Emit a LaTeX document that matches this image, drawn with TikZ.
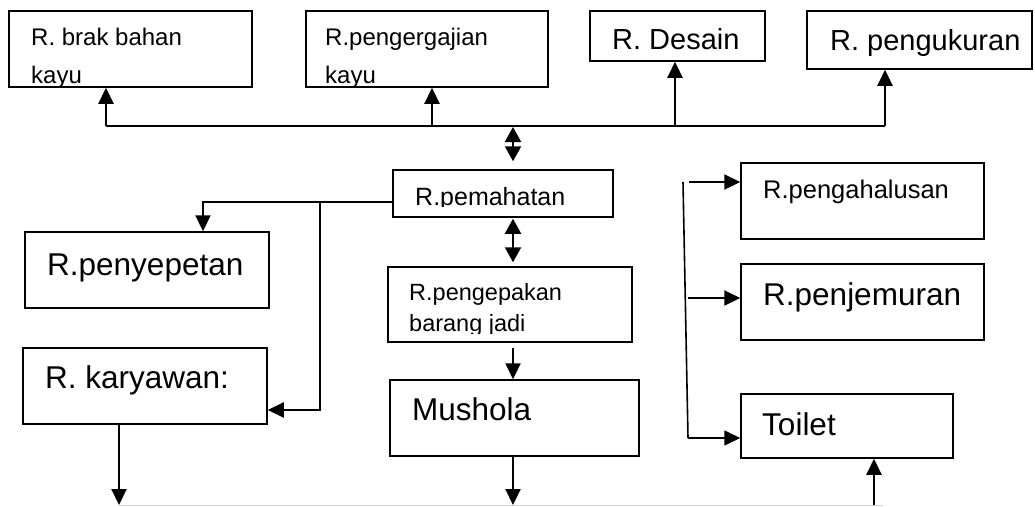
\documentclass[tikz,border=0pt]{standalone}
\usepackage{fontspec}
\setmainfont{Liberation Sans}
\usetikzlibrary{arrows.meta}
\begin{document}
\begin{tikzpicture}[x=1pt,y=-1pt,
  box/.style={draw, line width=1.5pt, inner sep=0pt},
  lbl/.style={anchor=base west, inner sep=0pt},
  fsmall/.style={font=\fontsize{24}{28}\selectfont},
  fmid/.style={font=\fontsize{25}{30}\selectfont},
  ftop/.style={font=\fontsize{29}{34}\selectfont},
  fbig/.style={font=\fontsize{31.5}{36}\selectfont},
  conn/.style={line width=2.2pt},
  thinconn/.style={line width=1.6pt},
  arr/.style={conn, -{Triangle[length=16pt,width=15pt]}},
  thinarr/.style={thinconn, -{Triangle[length=16pt,width=15pt]}},
  dbl/.style={conn, {Triangle[length=15pt,width=16pt]}-{Triangle[length=15pt,width=16pt]}},
  baseline/.style={line width=0.8pt, gray!35}
]
\useasboundingbox (0,0) rectangle (1035,506);

% room boxes
\node[box, minimum width=243, minimum height=76] (A) at (130.5,49) {};
\node[box, minimum width=242, minimum height=76] (B) at (427,49) {};
\node[box, minimum width=175, minimum height=50] (C) at (677.5,36) {};
\node[box, minimum width=225, minimum height=58] (D) at (919.5,40) {};
\node[box, minimum width=220, minimum height=47] (E) at (503,193.5) {};
\node[box, minimum width=244, minimum height=75] (F) at (510,304.5) {};
\node[box, minimum width=249, minimum height=76] (G) at (514.5,418) {};
\node[box, minimum width=244, minimum height=76] (H) at (147,270) {};
\node[box, minimum width=244, minimum height=76] (I) at (145,386) {};
\node[box, minimum width=243, minimum height=76] (J) at (862.5,201) {};
\node[box, minimum width=243, minimum height=76] (K) at (862.5,302) {};
\node[box, minimum width=212, minimum height=64] (L) at (847,426) {};

% labels (lower lines cut off at the inner margin)
\begin{scope}
  \clip (A.north west) rectangle ([yshift=2pt]A.south east);
  \node[lbl, fsmall] (tA1) at (31,45) {R. brak bahan};
  \node[lbl, fsmall] (tA2) at (31,83) {kayu};
\end{scope}
\begin{scope}
  \clip (B.north west) rectangle ([yshift=2pt]B.south east);
  \node[lbl, fsmall] (tB1) at (325,45) {R.pengergajian};
  \node[lbl, fsmall] (tB2) at (325,83) {kayu};
\end{scope}
\node[lbl, ftop] (tC) at (612,49) {R. Desain};
\node[lbl, ftop] (tD) at (830,50) {R. pengukuran};
\begin{scope}
  \clip (E.north west) rectangle ([yshift=11pt]E.south east);
  \node[lbl, fmid] (tE) at (415,205) {R.pemahatan};
\end{scope}
\begin{scope}
  \clip (F.north west) rectangle ([yshift=9pt]F.south east);
  \node[lbl, font=\fontsize{23.5}{28}\selectfont] (tF1) at (409,300) {R.pengepakan};
  \node[lbl, font=\fontsize{23.5}{28}\selectfont] (tF2) at (409,331) {barang jadi};
\end{scope}
\node[lbl, fbig] (tG) at (412,420) {Mushola};
\node[lbl, fbig] (tH) at (47,275) {R.penyepetan};
\node[lbl, fbig] (tI) at (45,388) {R. karyawan:};
\node[lbl, font=\fontsize{25.5}{30}\selectfont] (tJ) at (763,198) {R.pengahalusan};
\node[lbl, fbig] (tK) at (763,305) {R.penjemuran};
\node[lbl, fbig] (tL) at (762,435) {Toilet};

% junction points
\coordinate (busA) at (106,126);
\coordinate (busB) at (432,126);
\coordinate (busM) at (513,126);
\coordinate (busC) at (675,126);
\coordinate (busD) at (885,126);
\coordinate (eL) at (393,202);
\coordinate (hJ) at (203,202);
\coordinate (kJ) at (320,202);
\coordinate (kB) at (320,410);
\coordinate (botL) at (119,505);
\coordinate (botM) at (513,505);
\coordinate (botR) at (874,505);
\coordinate (botEnd) at (883,505.5);
\coordinate (rT) at (683,182);
\coordinate (rB) at (688,438);
\coordinate (jS) at (689,182);
\coordinate (kS) at (688,298);

% upper distribution line
\draw[conn] (busA) -- (busD);
\draw[arr] (busA) -- (busA |- A.south);
\draw[arr] (busB) -- (busB |- B.south);
\draw[arr] (busC) -- (busC |- C.south);
\draw[arr] (busD) -- (busD |- D.south);

% central column
\draw[dbl, shorten <=1pt, shorten >=8pt] (busM) -- (busM |- E.north);
\draw[dbl, shorten <=1pt, shorten >=4pt] (busM |- E.south) -- (busM |- F.north);
\draw[arr, shorten <=5pt] (busM |- F.south) -- (busM |- G.north);
\draw[arr] (busM |- G.south) -- (botM);

% left branch
\draw[arr] (eL) -- (hJ) -- (hJ |- H.north);
\draw[arr] (kJ) -- (kB) -- (kB -| I.east);
\draw[arr] (botL |- I.south) -- (botL);

% bottom line and toilet access
\draw[baseline] ([yshift=-0.5pt]botL) -- (botEnd);
\draw[arr] (botR) -- (botR |- L.south);

% right branch
\draw[thinconn] (rT) -- (rB);
\draw[thinarr] (rB) -- (rB -| L.west);
\draw[arr] (jS) -- (jS -| J.west);
\draw[arr] (kS) -- (kS -| K.west);
\end{tikzpicture}
\end{document}
